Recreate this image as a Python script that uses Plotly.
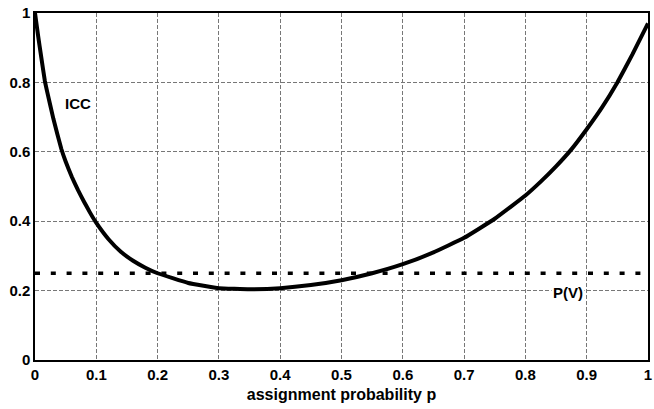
import plotly.graph_objects as go

# ICC curve
p_vals = [0.0, 0.005, 0.01, 0.016, 0.02, 0.03, 0.043, 0.05, 0.06, 0.07, 0.08, 0.09,
          0.1, 0.12, 0.14, 0.16, 0.18, 0.2, 0.25, 0.3, 0.35, 0.4, 0.45, 0.5,
          0.55, 0.6, 0.65, 0.7, 0.75, 0.8, 0.825, 0.85, 0.875, 0.9, 0.925, 0.95, 0.975, 1.0]
icc_vals = [1.0, 0.935, 0.875, 0.805, 0.772, 0.695, 0.608, 0.572, 0.528, 0.49, 0.456, 0.424,
            0.395, 0.348, 0.312, 0.286, 0.266, 0.25, 0.222, 0.207, 0.204, 0.207, 0.216, 0.23,
            0.25, 0.276, 0.31, 0.352, 0.407, 0.474, 0.514, 0.558, 0.607, 0.665, 0.728, 0.80, 0.882, 0.97]

# P(V) constant level
pv_x = [0.0, 1.0]
pv_y = [0.25, 0.25]

x_ticks = [0, 0.1, 0.2, 0.3, 0.4, 0.5, 0.6, 0.7, 0.8, 0.9, 1]
x_tick_text = ["0", "0.1", "0.2", "0.3", "0.4", "0.5", "0.6", "0.7", "0.8", "0.9", "1"]
y_ticks = [0, 0.2, 0.4, 0.6, 0.8, 1]
y_tick_text = ["0", "0.2", "0.4", "0.6", "0.8", "1"]

font_family = "Liberation Sans, Arial, sans-serif"

fig = go.Figure()
fig.add_trace(go.Scatter(x=pv_x, y=pv_y, mode="lines",
                         line=dict(color="black", width=3.5, dash="5px,10.8px"),
                         showlegend=False))
fig.add_trace(go.Scatter(x=p_vals, y=icc_vals, mode="lines",
                         line=dict(color="black", width=4, shape="spline", smoothing=0.3),
                         showlegend=False))

fig.add_annotation(x=0.07, y=0.74, text="<b>ICC</b>", showarrow=False,
                   font=dict(family=font_family, size=15, color="black"))
fig.add_annotation(x=0.87, y=0.195, text="<b>P(V)</b>", showarrow=False,
                   bgcolor="white", borderpad=1,
                   font=dict(family=font_family, size=15, color="black"))

axis_common = dict(
    range=[0, 1], showgrid=True, gridcolor="#777", gridwidth=1, griddash="4px,2px",
    zeroline=False, showline=True, linecolor="black", linewidth=1.5, mirror=True,
    ticks="", tickfont=dict(family=font_family, size=15, color="black"),
    ticklabeloverflow="allow",
)

fig.update_xaxes(**axis_common, tickvals=x_ticks,
                 ticktext=["<b>%s</b>" % t for t in x_tick_text],
                 title=dict(text="<b>assignment probability p</b>", standoff=7,
                            font=dict(family=font_family, size=16, color="black")))
fig.update_yaxes(**axis_common, tickvals=y_ticks,
                 ticktext=["<b>%s</b>" % t for t in y_tick_text])

fig.update_layout(
    width=654, height=409,
    margin=dict(l=35, r=6, t=13, b=49, autoexpand=False),
    plot_bgcolor="white", paper_bgcolor="white",
    showlegend=False,
)

fig.write_html("out.html", config={"displayModeBar": False},
               post_script="document.body.style.margin='0';document.body.style.padding='0';")
